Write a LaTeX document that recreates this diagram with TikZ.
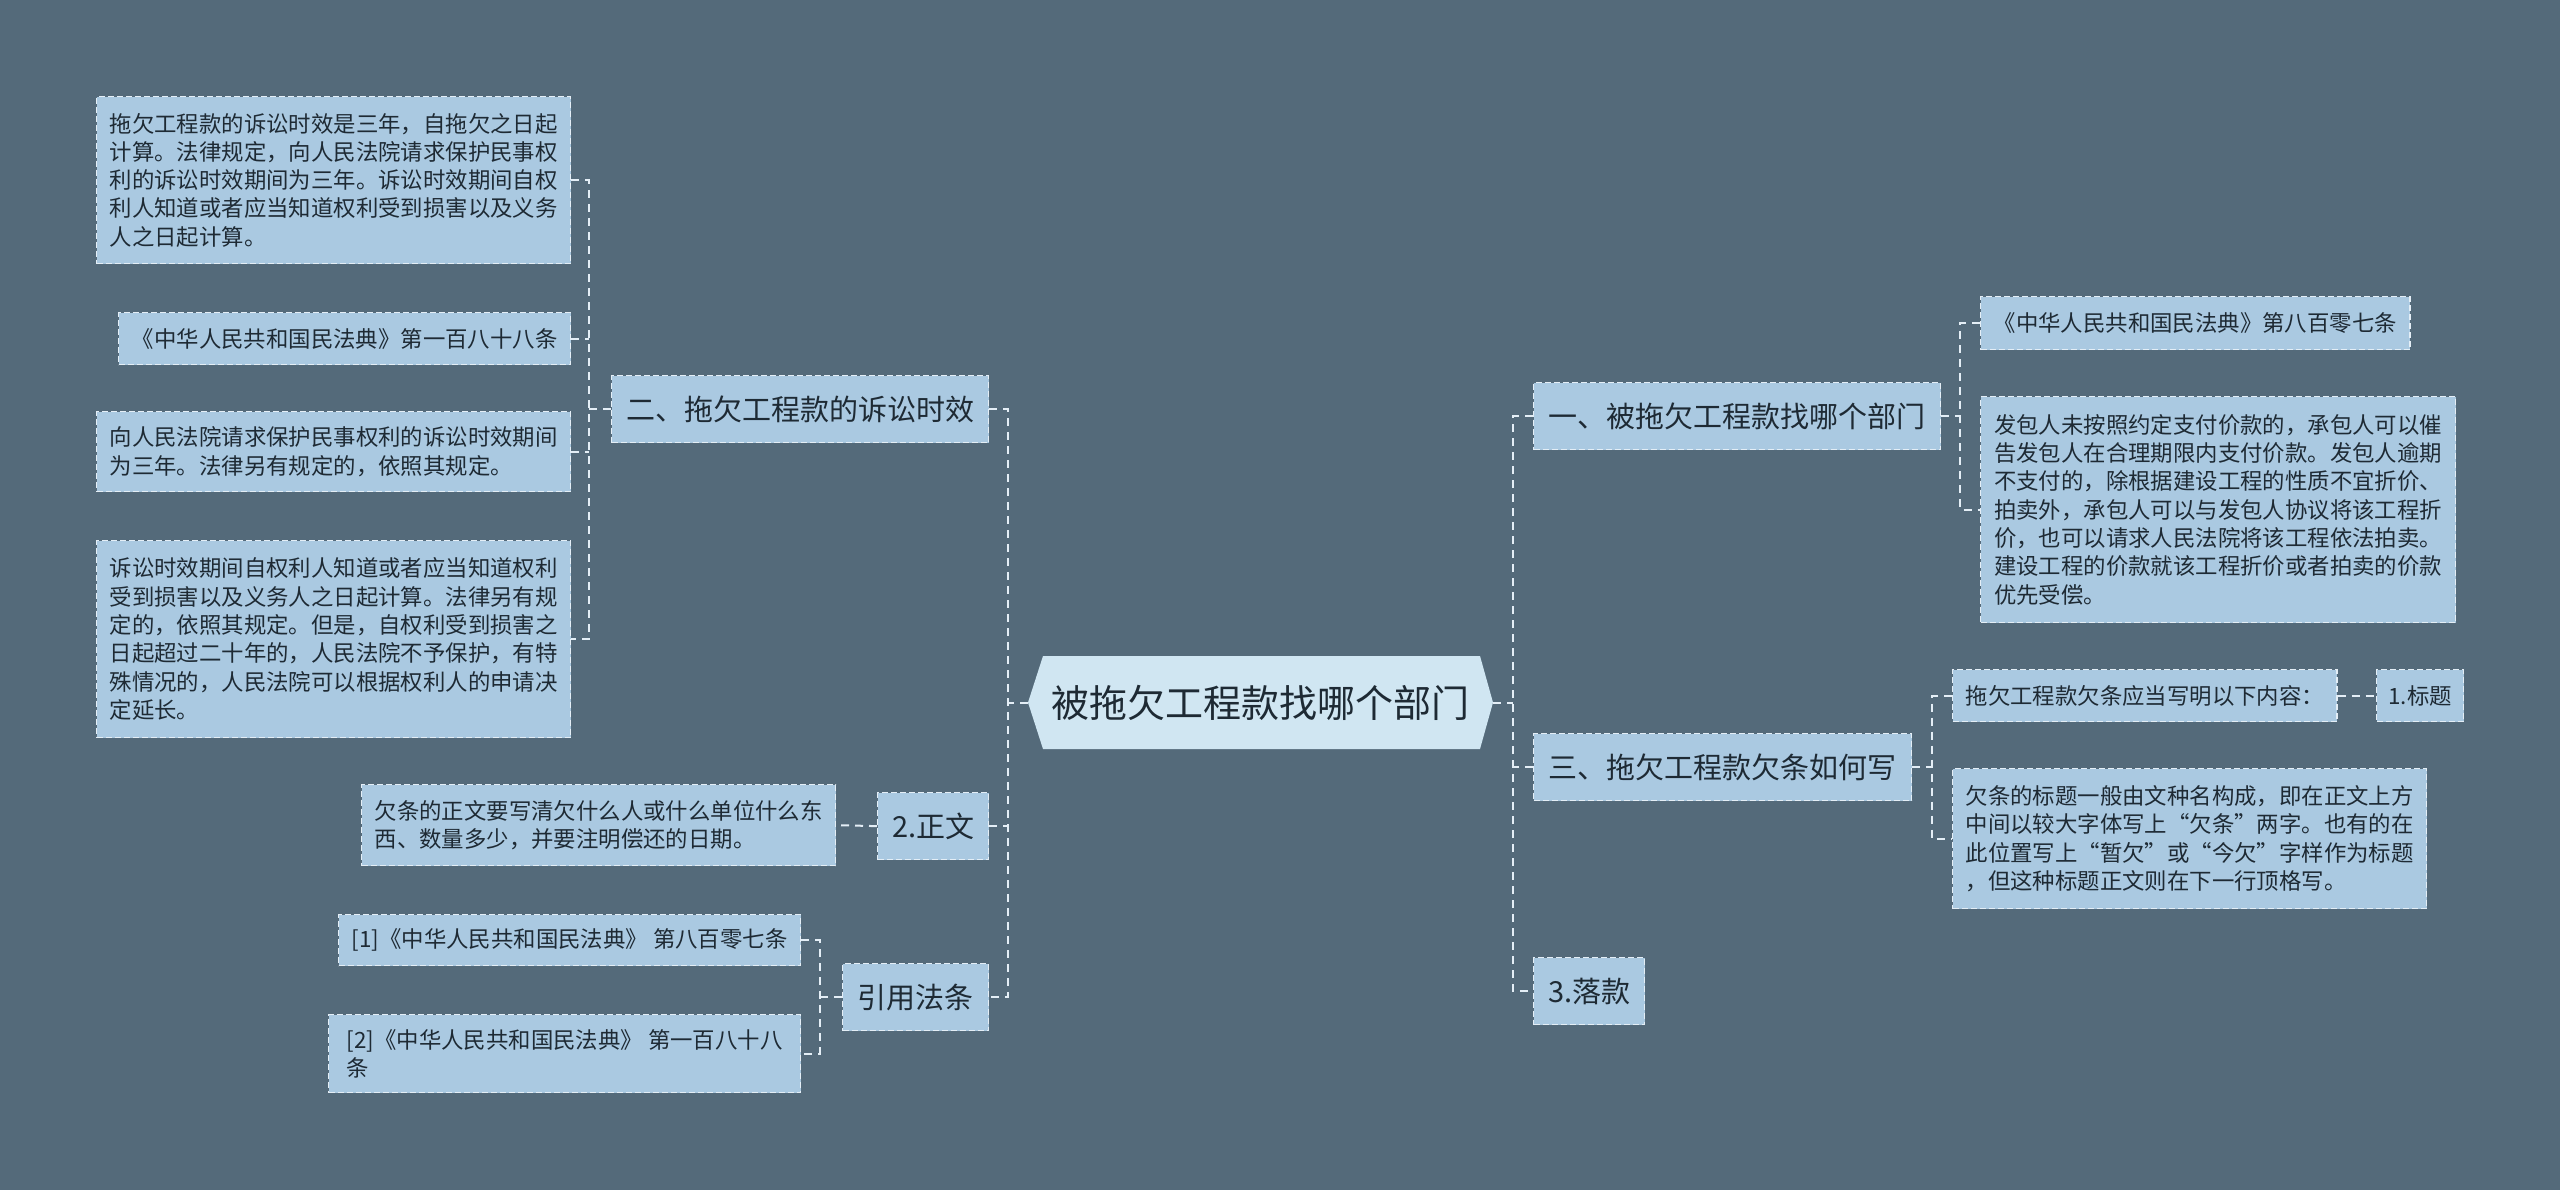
\documentclass[tikz,border=0pt]{standalone}
\usepackage{fontspec}
\newfontfamily\cjk{Noto Sans CJK SC}
\definecolor{bgc}{HTML}{546A7A}
\definecolor{nodefill}{HTML}{AAC9E1}
\definecolor{rootfill}{HTML}{D0E6F2}
\definecolor{edgec}{HTML}{E4EEF6}
\definecolor{txt}{HTML}{1E2A34}
\tikzset{
 box/.style={draw=edgec, line width=1.3pt, dash pattern=on 6pt off 3pt, fill=nodefill, text=txt, inner xsep=13pt, inner ysep=0pt, anchor=north west},
 mid/.style={box, font=\cjk\fontsize{29}{34}\selectfont, align=center, inner xsep=0pt},
 leaf/.style={box, font=\cjk\fontsize{22.4}{28.3}\selectfont, align=left},
 conn/.style={draw=edgec, line width=2pt, dash pattern=on 8pt off 6pt},
}
\begin{document}
\begin{tikzpicture}[x=1pt,y=-1pt]
\useasboundingbox (0,0) rectangle (2560,1190);
\fill[bgc] (0,0) rectangle (2560,1190);
% root
\fill[rootfill] (1028,702.5) -- (1043,656) -- (1480,656) -- (1493,702.5) -- (1480,749) -- (1043,749) -- cycle;
\node[font=\cjk\fontsize{38}{44}\selectfont, text=txt, minimum width=465pt, minimum height=93pt, inner sep=0pt] (root) at (1260.5,702.5) {被拖欠工程款找哪个部门};
% left level 1
\node[mid, minimum width=377pt, minimum height=67pt] (n2) at (611,375) {二、拖欠工程款的诉讼时效};
\node[mid, minimum width=111pt, minimum height=67pt] (zw) at (877,792) {2.正文};
\node[mid, minimum width=146pt, minimum height=67pt] (yy) at (842,963) {引用法条};
% left leaves
\node[leaf, minimum width=474pt, minimum height=167pt] (A) at (96,96) {拖欠工程款的诉讼时效是三年，自拖欠之日起\\计算。法律规定，向人民法院请求保护民事权\\利的诉讼时效期间为三年。诉讼时效期间自权\\利人知道或者应当知道权利受到损害以及义务\\人之日起计算。};
\node[leaf, minimum width=452pt, minimum height=52pt] (B) at (118,312) {《中华人民共和国民法典》第一百八十八条};
\node[leaf, minimum width=474pt, minimum height=80pt] (C) at (96,411) {向人民法院请求保护民事权利的诉讼时效期间\\为三年。法律另有规定的，依照其规定。};
\node[leaf, minimum width=474pt, minimum height=197pt] (D) at (96,540) {诉讼时效期间自权利人知道或者应当知道权利\\受到损害以及义务人之日起计算。法律另有规\\定的，依照其规定。但是，自权利受到损害之\\日起超过二十年的，人民法院不予保护，有特\\殊情况的，人民法院可以根据权利人的申请决\\定延长。};
\node[leaf, minimum width=473pt, minimum height=81pt] (qt) at (361,784) {欠条的正文要写清欠什么人或什么单位什么东\\西、数量多少，并要注明偿还的日期。};
\node[leaf, minimum width=462pt, minimum height=51pt] (r1) at (338,914) {[1]《中华人民共和国民法典》 第八百零七条};
\node[leaf, minimum width=472pt, minimum height=78pt, inner xsep=8pt] (r2) at (328,1014) {[2]《中华人民共和国民法典》 第一百八十八\\条};
% right level 1
\node[mid, minimum width=407pt, minimum height=67pt] (n1) at (1533,382) {一、被拖欠工程款找哪个部门};
\node[mid, minimum width=378pt, minimum height=67pt] (n3) at (1533,733) {三、拖欠工程款欠条如何写};
\node[mid, minimum width=111pt, minimum height=67pt] (lk) at (1533,957) {3.落款};
% right leaves
\node[leaf, minimum width=429pt, minimum height=53pt] (m1) at (1980,296) {《中华人民共和国民法典》第八百零七条};
\node[leaf, minimum width=475pt, minimum height=226pt] (m2) at (1980,396) {发包人未按照约定支付价款的，承包人可以催\\告发包人在合理期限内支付价款。发包人逾期\\不支付的，除根据建设工程的性质不宜折价、\\拍卖外，承包人可以与发包人协议将该工程折\\价，也可以请求人民法院将该工程依法拍卖。\\建设工程的价款就该工程折价或者拍卖的价款\\优先受偿。};
\node[leaf, minimum width=384pt, minimum height=52pt] (k1) at (1952,669) {拖欠工程款欠条应当写明以下内容：};
\node[leaf, minimum width=87pt, minimum height=52pt, inner xsep=0pt, align=center] (bt) at (2376,669) {1.标题};
\node[leaf, minimum width=474pt, minimum height=140pt] (k2) at (1952,768) {欠条的标题一般由文种名构成，即在正文上方\\中间以较大字体写上“欠条”两字。也有的在\\此位置写上“暂欠”或“今欠”字样作为标题\\，但这种标题正文则在下一行顶格写。};
% connector columns
\coordinate (cL) at (1008,702.5);
\coordinate (cR) at (1513,702.5);
\coordinate (c2) at (589,409);
\coordinate (c3) at (820,997);
\coordinate (c4) at (1960,416);
\coordinate (c5) at (1932,767);
% left root
\draw[conn] (root.west) -- (cL);
\draw[conn] (n2.east) -- (n2.east-|cL) -- (yy.east-|cL) -- (yy.east);
\draw[conn] (zw.east) -- (zw.east-|cL);
% group 2
\draw[conn] (n2.west) -- (n2.west-|c2);
\draw[conn] (A.east) -- (A.east-|c2) -- (D.east-|c2) -- (D.east);
\draw[conn] (B.east) -- (B.east-|c2);
\draw[conn] (C.east) -- (C.east-|c2);
% 2.zhengwen
\draw[conn] (zw.west) -- (qt.east);
% yinyong
\draw[conn] (yy.west) -- (yy.west-|c3);
\draw[conn] (r1.east) -- (r1.east-|c3) -- (r2.east-|c3) -- (r2.east);
% right root
\draw[conn] (root.east) -- (cR);
\draw[conn] (n1.west) -- (n1.west-|cR) -- (lk.west-|cR) -- (lk.west);
\draw[conn] (n3.west) -- (n3.west-|cR);
% group 1
\draw[conn] (n1.east) -- (n1.east-|c4);
\draw[conn] (m1.west) -- (m1.west-|c4) -- (m2.west-|c4) -- (m2.west);
% group 3
\draw[conn] (n3.east) -- (n3.east-|c5);
\draw[conn] (k1.west) -- (k1.west-|c5) -- (k2.west-|c5) -- (k2.west);
\draw[conn] (k1.east) -- (bt.west);
\end{tikzpicture}
\end{document}
